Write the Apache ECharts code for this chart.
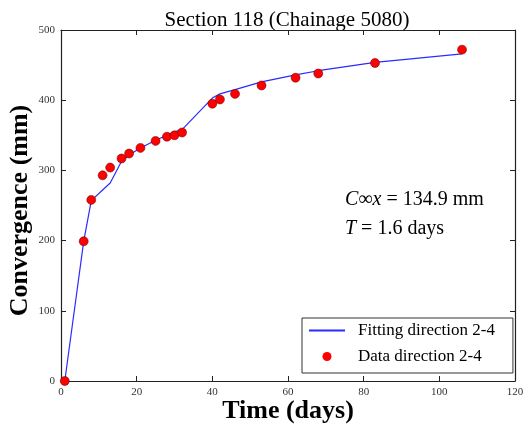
<!DOCTYPE html>
<html>
<head>
<meta charset="utf-8">
<script src="https://cdn.jsdelivr.net/npm/echarts@6/dist/echarts.min.js"></script>
<style>
html,body{margin:0;padding:0;background:#fff;}
#chart{width:524px;height:428px;}
</style>
</head>
<body>
<div id="chart"></div>
<script>
var days = [1, 6, 8, 11, 13, 16, 18, 21, 25, 28, 30, 32, 40, 42, 46, 53, 62, 68, 83, 106];
var measured = [0, 199, 258, 293, 304, 317, 324, 332, 342, 348, 350, 354, 395, 401, 409, 421, 432, 438, 453, 472];
var fitted = [0, 199, 257, 272, 282, 313, 322, 332, 343, 350, 355, 358, 403, 409, 415, 426, 436, 442, 454, 466];
var xTicks = [0, 20, 40, 60, 80, 100, 120];
var yTicks = [0, 100, 200, 300, 400, 500];

var SERIF = '"Liberation Serif","DejaVu Serif",serif';
var axisCol = '#222';

function pairs(xs, ys) { return xs.map(function (x, i) { return [x, ys[i]]; }); }

var chart = echarts.init(document.getElementById('chart'), null, {renderer: 'canvas'});
var baseX = {
  type: 'value', min: xTicks[0], max: xTicks[xTicks.length - 1], interval: 20,
  axisLine: {show: true, onZero: false, lineStyle: {color: axisCol, width: 1.2}},
  axisTick: {show: true, inside: true, length: 5, lineStyle: {color: axisCol, width: 1}},
  splitLine: {show: false}
};
var baseY = {
  type: 'value', min: yTicks[0], max: yTicks[yTicks.length - 1], interval: 100,
  axisLine: {show: true, onZero: false, lineStyle: {color: axisCol, width: 1.2}},
  axisTick: {show: true, inside: true, length: 5, lineStyle: {color: axisCol, width: 1}},
  splitLine: {show: false}
};

chart.setOption({
  animation: false,
  backgroundColor: '#fff',
  grid: {left: 61, right: 9, top: 30, bottom: 47, containLabel: false, outerBoundsMode: 'none'},
  xAxis: [
    Object.assign({}, baseX, {
      position: 'bottom',
      axisLabel: {show: true, color: '#333', fontFamily: SERIF, fontSize: 11, margin: 6},
      name: 'Time (days)', nameLocation: 'middle', nameGap: 17, nameMoveOverlap: false,
      nameTextStyle: {fontFamily: SERIF, fontSize: 26, fontWeight: 'bold', color: '#000', verticalAlign: 'top'}
    }),
    Object.assign({}, baseX, {position: 'top', axisLabel: {show: false}})
  ],
  yAxis: [
    Object.assign({}, baseY, {
      position: 'left',
      axisLabel: {show: true, color: '#333', fontFamily: SERIF, fontSize: 11, margin: 6},
      name: 'Convergence (mm)', nameLocation: 'middle', nameGap: 28, nameMoveOverlap: false,
      nameTextStyle: {fontFamily: SERIF, fontSize: 26, fontWeight: 'bold', color: '#000', verticalAlign: 'bottom', padding: [0, 10, 0, 0]}
    }),
    Object.assign({}, baseY, {position: 'right', axisLabel: {show: false}})
  ],
  legend: {
    orient: 'vertical', left: 302, top: 318,
    padding: [3, 18, 7, 6], itemGap: 7,
    itemWidth: 36, itemHeight: 9,
    borderColor: '#333', borderWidth: 1, backgroundColor: '#fff',
    textStyle: {fontFamily: SERIF, fontSize: 17, color: '#000', padding: [0, 0, 0, 8], lineHeight: 19},
    data: [
      {name: 'Fitting direction 2-4', itemStyle: {color: 'rgba(0,0,0,0)', borderWidth: 0}},
      {name: 'Data direction 2-4', itemStyle: {borderWidth: 0}}
    ]
  },
  graphic: [
    {
      type: 'text', x: 287, y: 10,
      style: {text: 'Section 118 (Chainage 5080)', font: '21px ' + SERIF, fill: '#000', align: 'center', textAlign: 'center'}
    },
    {
      type: 'text', left: 345, top: 190,
      style: {
        text: '{i|C}∞{i|x} = 134.9 mm', fill: '#000', font: '20px ' + SERIF,
        rich: {i: {fontStyle: 'italic', fontFamily: SERIF, fontSize: 20}}
      }
    },
    {
      type: 'text', left: 345, top: 219,
      style: {
        text: '{i|T} = 1.6 days', fill: '#000', font: '20px ' + SERIF,
        rich: {i: {fontStyle: 'italic', fontFamily: SERIF, fontSize: 20}}
      }
    }
  ],
  series: [
    {
      name: 'Fitting direction 2-4', type: 'line', symbol: 'none',
      data: pairs(days, fitted),
      lineStyle: {color: '#2b2bff', width: 1.2},
      itemStyle: {color: '#2b2bff'},
      z: 2
    },
    {
      name: 'Data direction 2-4', type: 'scatter', symbol: 'circle', symbolSize: 9,
      data: pairs(days, measured),
      itemStyle: {color: '#ff0000', borderColor: '#550000', borderWidth: 0.5, opacity: 1},
      z: 3
    }
  ]
});
</script>
</body>
</html>
